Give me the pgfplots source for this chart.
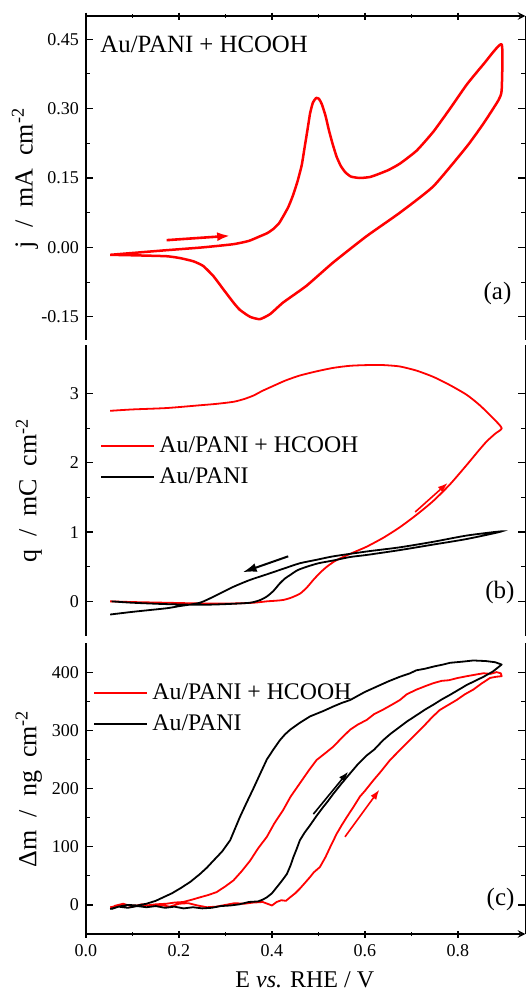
\documentclass[border=0pt]{standalone}
\usepackage{fontspec}
\setmainfont{Liberation Serif}
\usepackage{pgfplots}
\pgfplotsset{compat=1.18}
\usetikzlibrary{arrows.meta}
\definecolor{myred}{RGB}{255,0,0}

\tikzset{lab/.style={anchor=east, inner sep=0pt, font=\fontsize{12.5}{14}\selectfont},
  ylab/.style={rotate=90, anchor=center, inner sep=0pt, font=\fontsize{13}{15}\selectfont}}
\newcommand{\wsp}{\hspace{0.5em}}
\pgfplotsset{
  base/.style={
    scale only axis, width=219.7pt, xmin=0, xmax=0.945, clip=false,
    axis line style={-, line width=0.7pt},
    every tick/.style={line width=0.6pt, black},
    major tick length=3.5pt, minor tick length=2pt,
    xtick={0,0.2,0.4,0.6,0.8}, minor x tick num=1, minor y tick num=1,
    yticklabel pos=left,
    tick label style={font=\fontsize{9}{10}\selectfont},
    /pgf/number format/assume math mode=true,
  },
  leg/.style={
    legend style={draw=none, fill=none, inner sep=0pt, font=\fontsize{11.9}{13}\selectfont, row sep=2pt},
    legend cell align=left,
    legend image code/.code={\draw[##1, line width=1pt, sharp plot] (0pt,0pt) -- (26.5pt,0pt);},
  },
}

\begin{document}
\begin{tikzpicture}
%% (a)
\begin{axis}[base, at={(43pt,326pt)}, anchor=south west, height=162pt,
  ymin=-0.2, ymax=0.5, axis x line=top, axis y line=box, xticklabels={},
  ytick={-0.15,0,0.15,0.30,0.45},
  yticklabel style={/pgf/number format/.cd, fixed, fixed zerofill, precision=2}]
\addplot[myred, line width=1.25pt, line join=round, smooth, tension=0.3] coordinates {
(0.052,-0.016) (0.10,-0.012) (0.173,-0.006) (0.25,0.000) (0.317,0.007) (0.35,0.014)
(0.374,0.024) (0.39,0.031) (0.403,0.040) (0.415,0.052) (0.424,0.067) (0.435,0.087)
(0.445,0.112) (0.455,0.143) (0.464,0.178) (0.470,0.215) (0.476,0.252) (0.482,0.290)
(0.488,0.313) (0.495,0.323) (0.501,0.321) (0.507,0.310) (0.515,0.285) (0.522,0.255)
(0.530,0.225) (0.539,0.196) (0.548,0.176) (0.558,0.162) (0.570,0.153) (0.589,0.150)
(0.610,0.152) (0.625,0.157) (0.650,0.167) (0.675,0.181) (0.711,0.209) (0.747,0.250)
(0.783,0.300) (0.819,0.352) (0.855,0.396) (0.894,0.439)
(0.894,0.340) (0.887,0.318) (0.855,0.268) (0.819,0.218) (0.747,0.132) (0.675,0.075)
(0.603,0.024) (0.531,-0.033) (0.474,-0.083) (0.424,-0.119) (0.396,-0.144) (0.374,-0.155)
(0.353,-0.150) (0.331,-0.135) (0.317,-0.119) (0.295,-0.090) (0.274,-0.062) (0.252,-0.040)
(0.231,-0.030) (0.202,-0.023) (0.173,-0.019) (0.101,-0.017) (0.052,-0.016)
};
\draw[myred, line width=1.3pt, -{Latex[length=6.5pt,width=4.5pt]}] (axis cs:0.1735,0.0157) -- (axis cs:0.31,0.0252);
\node[anchor=base west, inner sep=0pt, font=\fontsize{12.4}{14}\selectfont] at (axis description cs:0.032,0.886) {Au/PANI + HCOOH};
\node[lab] at (axis description cs:0.969,0.145) {(a)};
\node[ylab] at (axis description cs:-0.139,0.5) {j\wsp/\wsp mA\wsp cm\textsuperscript{-2}};
\end{axis}

%% (b)
\begin{axis}[base, leg, at={(43pt,178pt)}, anchor=south west, height=145.5pt,
  ymin=-0.5, ymax=3.7, axis x line=none, axis y line=box,
  ytick={0,1,2,3},
  legend style={at={(axis description cs:0.032,0.600)}, anchor=west}]
\addplot[color=myred, line width=0.9pt, smooth, tension=0.4] coordinates {
(0.052,0.00) (0.10,-0.01) (0.173,-0.02) (0.245,-0.03) (0.317,-0.03) (0.36,-0.02)
(0.389,0.00) (0.41,0.01) (0.424,0.02) (0.44,0.05) (0.46,0.11) (0.475,0.20) (0.489,0.31)
(0.503,0.41) (0.518,0.50) (0.535,0.58) (0.553,0.64) (0.58,0.72) (0.604,0.79) (0.64,0.92)
(0.675,1.07) (0.711,1.25) (0.747,1.45) (0.783,1.69) (0.819,1.97) (0.845,2.18) (0.862,2.31)
(0.880,2.42) (0.894,2.50)
(0.876,2.64) (0.847,2.83) (0.819,2.98) (0.783,3.12) (0.747,3.24) (0.711,3.33) (0.675,3.39)
(0.64,3.41) (0.604,3.41) (0.568,3.40) (0.532,3.37) (0.496,3.32) (0.46,3.26) (0.43,3.19)
(0.403,3.11) (0.38,3.04) (0.36,2.97) (0.34,2.92) (0.317,2.88) (0.28,2.85) (0.245,2.83)
(0.173,2.79) (0.10,2.77) (0.052,2.75)
};
\addlegendentry{Au/PANI + HCOOH}
\addplot[color=black, line width=0.9pt, smooth, tension=0.4] coordinates {
(0.055,0.00) (0.10,-0.02) (0.173,-0.04) (0.245,-0.05) (0.30,-0.04) (0.353,-0.02)
(0.375,0.02) (0.389,0.07) (0.403,0.15) (0.417,0.26) (0.428,0.33) (0.439,0.38) (0.455,0.45)
(0.475,0.50) (0.50,0.55) (0.532,0.59) (0.568,0.64) (0.604,0.67) (0.675,0.74) (0.747,0.82)
(0.819,0.90) (0.894,1.01)
(0.819,0.95) (0.747,0.86) (0.675,0.78) (0.604,0.72) (0.532,0.65) (0.496,0.60) (0.46,0.55)
(0.424,0.47) (0.389,0.39) (0.353,0.31) (0.317,0.21) (0.281,0.09) (0.245,-0.02) (0.20,-0.07)
(0.173,-0.10) (0.102,-0.15) (0.052,-0.19)
};
\addlegendentry{Au/PANI}
\draw[myred, line width=0.8pt, -{Latex[length=5pt,width=3.5pt]}] (axis cs:0.708,1.29) -- (axis cs:0.778,1.71);
\draw[black, line width=1pt, -{Latex[length=7pt,width=4.5pt]}] (axis cs:0.435,0.65) -- (axis cs:0.337,0.42);
\node[lab] at (axis description cs:0.976,0.148) {(b)};
\node[ylab] at (axis description cs:-0.13,0.5) {q\wsp/\wsp mC\wsp cm\textsuperscript{-2}};
\end{axis}

%% (c)
\begin{axis}[base, leg, at={(43pt,29pt)}, anchor=south west, height=145.5pt,
  ymin=-50, ymax=450, axis x line=bottom, axis y line=box,
  ytick={0,100,200,300,400},
  xticklabel style={/pgf/number format/.cd, fixed, fixed zerofill, precision=1},
  legend style={at={(axis description cs:0.016,0.775)}, anchor=west}]
\addplot[myred, line width=0.9pt, line join=round] coordinates {
(0.06,-2) (0.08,2) (0.10,-3) (0.12,1) (0.14,-2) (0.16,0) (0.18,-3) (0.20,2) (0.22,3)
(0.24,-1) (0.26,-4) (0.28,-3) (0.30,0) (0.32,3) (0.34,2) (0.36,4) (0.38,5) (0.39,2)
(0.40,-1) (0.41,5) (0.42,8) (0.43,7) (0.439,13) (0.45,20) (0.46,28) (0.47,37) (0.482,48)
(0.49,56) (0.503,65) (0.515,82) (0.525,99) (0.539,122) (0.55,137) (0.561,151) (0.575,168)
(0.589,186) (0.60,196) (0.618,214) (0.635,230) (0.654,249) (0.67,262) (0.69,278) (0.705,290)
(0.725,306) (0.745,323) (0.761,335) (0.78,344) (0.797,352) (0.815,362) (0.833,370) (0.85,380)
(0.869,390) (0.882,392) (0.894,393)
(0.892,398) (0.883,400) (0.87,397) (0.855,398) (0.84,396) (0.819,393) (0.80,390) (0.78,386)
(0.765,385) (0.747,381) (0.73,376) (0.711,370) (0.69,362) (0.675,352) (0.66,345) (0.64,336)
(0.62,328) (0.604,318) (0.585,310) (0.568,301) (0.55,287) (0.532,272) (0.515,261) (0.496,249)
(0.48,232) (0.46,209) (0.44,186) (0.424,163) (0.405,140) (0.389,117) (0.37,97) (0.353,76)
(0.335,58) (0.317,42) (0.30,32) (0.281,22) (0.263,17) (0.245,13) (0.228,9) (0.209,5)
(0.19,4) (0.173,2) (0.15,1) (0.13,-1) (0.10,-1) (0.08,0) (0.06,-3) (0.052,-4)
};
\addlegendentry{Au/PANI + HCOOH}
\addplot[black, line width=0.9pt, line join=round] coordinates {
(0.055,-7) (0.07,-3) (0.09,-5) (0.11,-2) (0.13,-4) (0.15,-2) (0.17,-5) (0.19,-3) (0.21,-6)
(0.23,-4) (0.25,-6) (0.27,-5) (0.29,-2) (0.31,-1) (0.33,1) (0.35,5) (0.37,6) (0.38,9)
(0.389,13) (0.40,20) (0.41,30) (0.42,40) (0.432,53) (0.44,68) (0.446,82) (0.453,96) (0.46,111)
(0.47,124) (0.482,137) (0.495,152) (0.51,168) (0.52,178) (0.532,191) (0.55,209) (0.568,226)
(0.585,242) (0.604,257) (0.62,267) (0.639,283) (0.655,294) (0.675,306) (0.69,315) (0.711,326)
(0.73,336) (0.747,344) (0.765,353) (0.783,361) (0.80,369) (0.819,378) (0.837,385) (0.855,392)
(0.875,401) (0.894,413)
(0.88,417) (0.86,419) (0.833,420) (0.81,418) (0.783,416) (0.768,413) (0.75,410) (0.73,406)
(0.71,403) (0.697,398) (0.675,392) (0.65,384) (0.625,375) (0.60,366) (0.568,352) (0.55,347)
(0.532,341) (0.51,333) (0.482,324) (0.46,313) (0.439,301) (0.428,293) (0.417,283) (0.403,267)
(0.389,250) (0.375,226) (0.36,200) (0.345,175) (0.331,151) (0.32,130) (0.31,111) (0.293,92)
(0.274,76) (0.26,64) (0.245,53) (0.225,40) (0.206,30) (0.185,20) (0.166,13) (0.15,7)
(0.13,2) (0.11,-1) (0.09,0) (0.07,-3) (0.052,-7)
};
\addlegendentry{Au/PANI}
\draw[black, line width=0.8pt, -{Latex[length=5pt,width=3.5pt]}] (axis cs:0.489,156) -- (axis cs:0.564,229);
\draw[myred, line width=0.8pt, -{Latex[length=5pt,width=3.5pt]}] (axis cs:0.557,117) -- (axis cs:0.631,198);
\node[lab] at (axis description cs:0.976,0.117) {(c)};
\node[ylab] at (axis description cs:-0.13,0.5) {Δm\wsp/\wsp ng\wsp cm\textsuperscript{-2}};
\node[anchor=center, inner sep=0pt, font=\fontsize{12}{14}\selectfont] at (axis description cs:0.498,-0.158) {E \textit{vs.} RHE / V};
\end{axis}
\pgfresetboundingbox
\useasboundingbox (0,0) rectangle (263pt,496pt);
\end{tikzpicture}
\end{document}
